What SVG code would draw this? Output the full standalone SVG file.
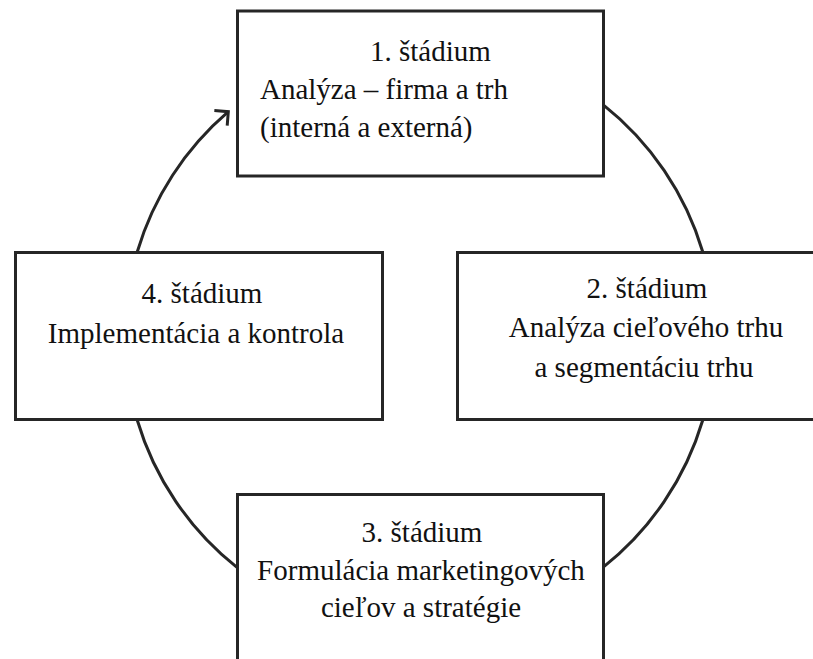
<svg xmlns="http://www.w3.org/2000/svg" width="813" height="659" viewBox="0 0 813 659">
  <style>
    .box { fill: #ffffff; stroke: #262626; stroke-width: 3; }
    .arc { fill: none; stroke: #262626; stroke-width: 3; }
    text { font-family: 'Liberation Serif', 'Tinos', 'Times New Roman', serif; font-size: 29px; fill: #111111; }
    .mid { text-anchor: middle; }
  </style>
  <defs>
    <marker id="arrow" viewBox="0 0 14 20" refX="12" refY="10" markerWidth="14" markerHeight="20" markerUnits="userSpaceOnUse" orient="auto" overflow="visible">
      <path d="M2.1,0.1 L12,10 L2.1,19.9" fill="none" stroke="#262626" stroke-width="3" stroke-linejoin="miter"/>
    </marker>
  </defs>
  <rect width="813" height="659" fill="#ffffff"/>

  <!-- cycle connectors: arcs of one circle (centre 420,336, r 295) -->
  <g id="connectors">
    <path class="arc" d="M603,104.6 A295,295 0 0 1 702.8,252"/>
    <path class="arc" d="M702.8,420 A295,295 0 0 1 603,567.4"/>
    <path class="arc" d="M237,567.4 A295,295 0 0 1 137.2,420"/>
    <path class="arc" d="M137.2,252 A295,295 0 0 1 228.3,111.7" marker-end="url(#arrow)"/>
  </g>

  <g id="stage1">
    <rect class="box" x="237.5" y="11" width="366" height="165"/>
    <text x="370" y="61">1. štádium</text>
    <text x="260" y="99">Analýza – firma a trh</text>
    <text x="260" y="137">(interná a externá)</text>
  </g>

  <g id="stage2">
    <rect class="box" x="457.5" y="252.5" width="368" height="167"/>
    <text class="mid" x="647" y="298">2. štádium</text>
    <text class="mid" x="646" y="337">Analýza cieľového trhu</text>
    <text class="mid" x="644" y="377">a segmentáciu trhu</text>
  </g>

  <g id="stage3">
    <rect class="box" x="237.5" y="494.5" width="366" height="170"/>
    <text class="mid" x="422" y="542">3. štádium</text>
    <text class="mid" x="421" y="580">Formulácia marketingových</text>
    <text class="mid" x="421" y="617">cieľov a stratégie</text>
  </g>

  <g id="stage4">
    <rect class="box" x="15.5" y="252.5" width="367" height="167"/>
    <text class="mid" x="202" y="303">4. štádium</text>
    <text class="mid" x="196" y="343">Implementácia a kontrola</text>
  </g>
</svg>
